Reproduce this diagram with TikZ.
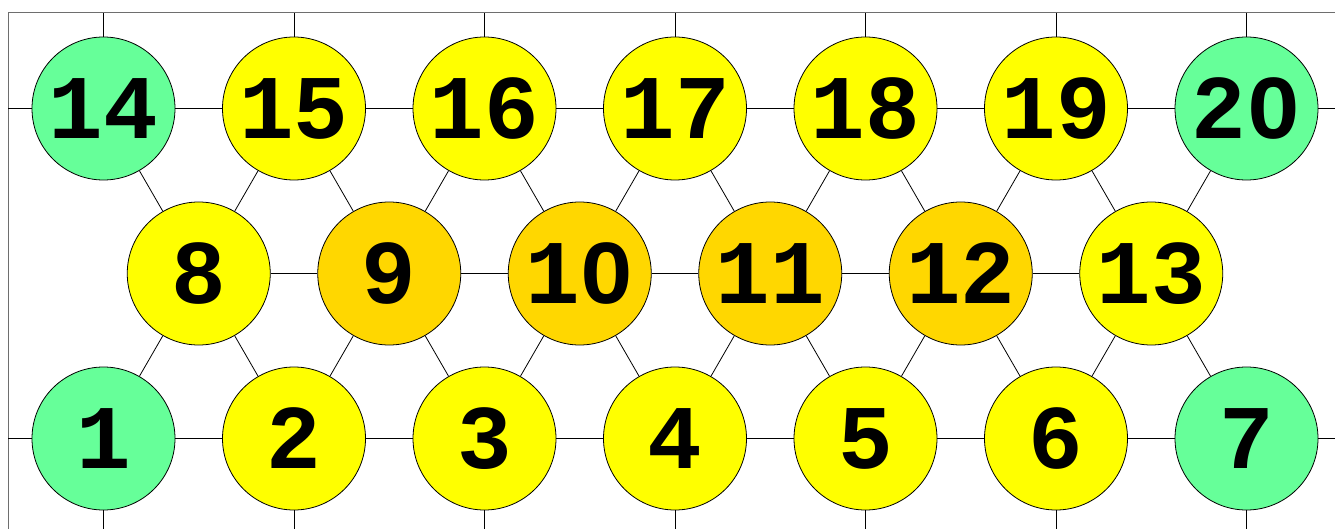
\documentclass[tikz,border=0pt]{standalone}
\usepackage{fontspec}
\newfontfamily\numfont{Liberation Mono}
\definecolor{cgreen}{RGB}{102,255,153}
\definecolor{cyellow}{RGB}{255,255,0}
\definecolor{cgold}{RGB}{255,215,0}
\definecolor{cframe}{RGB}{110,110,110}
% plain (undotted) zero: hide the centre dot of Liberation Mono's zero
\newcommand\plainzero[1]{\ooalign{0\cr\hidewidth\textcolor{#1}{\rule[0.2em]{0.14em}{0.25em}}\hidewidth\cr}}
\begin{document}
\begin{tikzpicture}[x=1pt,y=-1pt,
  cell/.style={circle,draw=black,line width=0.8pt,minimum size=143pt,inner sep=0pt,
    font=\numfont\bfseries\fontsize{91}{91}\selectfont},
  green/.style={cell,fill=cgreen},
  yel/.style={cell,fill=cyellow},
  gold/.style={cell,fill=cgold},
  link/.style={draw=black,line width=0.8pt},
  frame/.style={draw=cframe,line width=1pt}]
\useasboundingbox (0,0) rectangle (1335,529);
% frame
\draw[frame] (1335,13) -- (8,13) -- (8,529);
% top row
\node[green] (n14) at (103.5,108.5) {14};
\node[yel] (n15) at (294,108.5) {15};
\node[yel] (n16) at (484.5,108.5) {16};
\node[yel] (n17) at (675,108.5) {17};
\node[yel] (n18) at (865.5,108.5) {18};
\node[yel] (n19) at (1056,108.5) {19};
\node[green] (n20) at (1246.5,108.5) {2\plainzero{cgreen}};
% middle row
\node[yel] (n8) at (198.75,273.5) {8};
\node[gold] (n9) at (389.25,273.5) {9};
\node[gold] (n10) at (579.75,273.5) {1\plainzero{cgold}};
\node[gold] (n11) at (770.25,273.5) {11};
\node[gold] (n12) at (960.75,273.5) {12};
\node[yel] (n13) at (1151.25,273.5) {13};
% bottom row
\node[green] (n1) at (103.5,438.5) {1};
\node[yel] (n2) at (294,438.5) {2};
\node[yel] (n3) at (484.5,438.5) {3};
\node[yel] (n4) at (675,438.5) {4};
\node[yel] (n5) at (865.5,438.5) {5};
\node[yel] (n6) at (1056,438.5) {6};
\node[green] (n7) at (1246.5,438.5) {7};
% free ends
\coordinate (lt) at (8,108.5);
\coordinate (lb) at (8,438.5);
\coordinate (rt) at (1335,108.5);
\coordinate (rb) at (1335,438.5);
\foreach \n/\x in {14/103.5,15/294,16/484.5,17/675,18/865.5,19/1056,20/1246.5}
  \coordinate (t\n) at (\x,13);
\foreach \n/\x in {1/103.5,2/294,3/484.5,4/675,5/865.5,6/1056,7/1246.5}
  \coordinate (b\n) at (\x,529);
% horizontal links
\draw[link] (lt) -- (n14) -- (n15) -- (n16) -- (n17) -- (n18) -- (n19) -- (n20) -- (rt);
\draw[link] (lb) -- (n1) -- (n2) -- (n3) -- (n4) -- (n5) -- (n6) -- (n7) -- (rb);
\draw[link] (n8) -- (n9) -- (n10) -- (n11) -- (n12) -- (n13);
% vertical ticks
\foreach \n in {14,15,16,17,18,19,20} \draw[link] (n\n) -- (t\n);
\foreach \n in {1,2,3,4,5,6,7} \draw[link] (n\n) -- (b\n);
% diagonal links
\foreach \m/\a/\b/\c/\d in {8/14/15/1/2,9/15/16/2/3,10/16/17/3/4,11/17/18/4/5,12/18/19/5/6,13/19/20/6/7}{
  \draw[link] (n\m) -- (n\a);
  \draw[link] (n\m) -- (n\b);
  \draw[link] (n\m) -- (n\c);
  \draw[link] (n\m) -- (n\d);
}
\end{tikzpicture}
\end{document}
